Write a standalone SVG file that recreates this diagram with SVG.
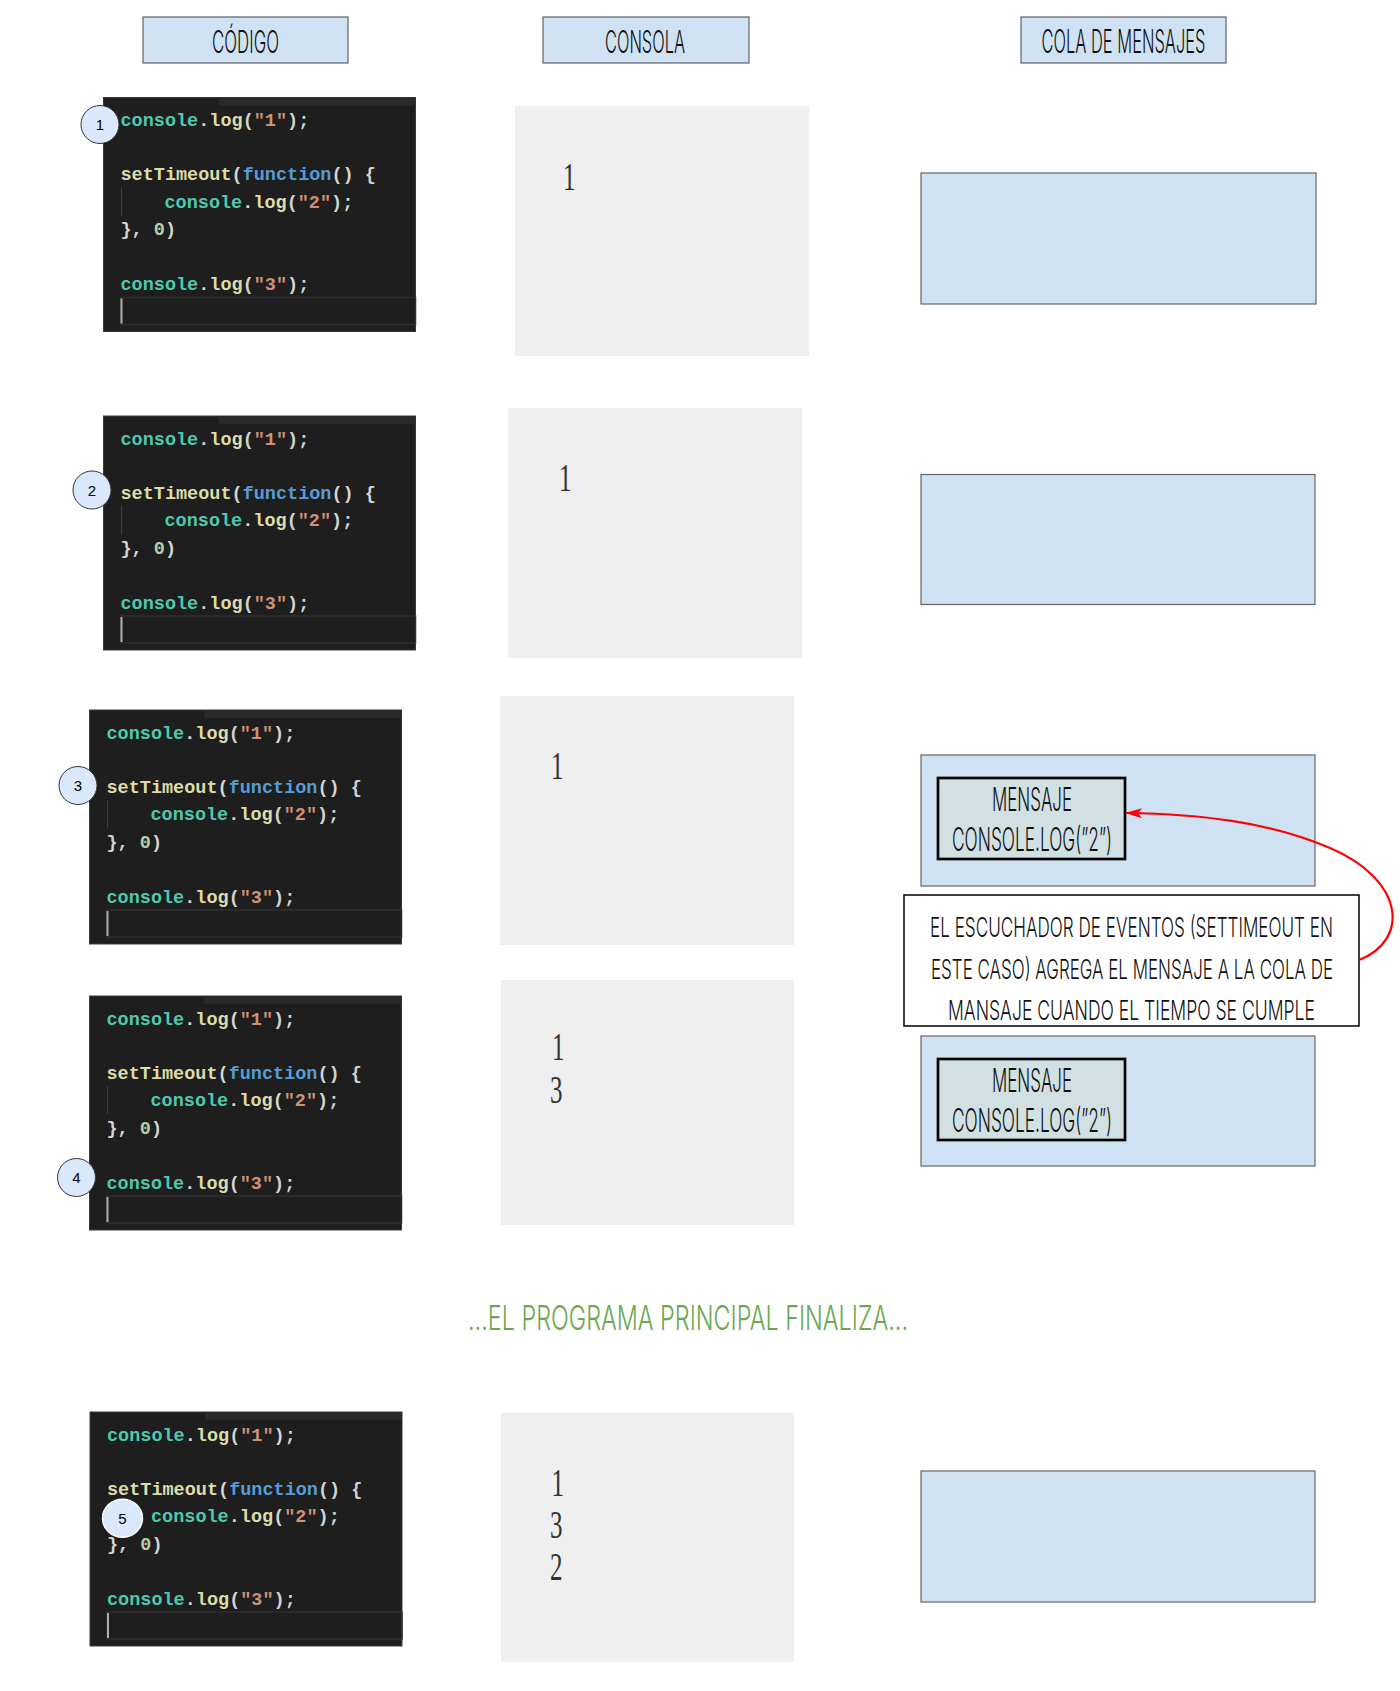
<svg xmlns="http://www.w3.org/2000/svg" width="1400" height="1691" viewBox="0 0 1400 1691">
<style>
.hdr{fill:#cfe2f3;stroke:#5f6368;stroke-width:1.2}
.queue{fill:#cfe2f3;stroke:#666;stroke-width:1.2}
.msg{fill:#d0e0e3;stroke:#000;stroke-width:2.7}
.note{fill:#fff;stroke:#000;stroke-width:1.5}
.cons{fill:#efefef}
.am{font-family:"Inter","Roboto","Liberation Sans",sans-serif;font-weight:300;fill:#111}
.dig{font-family:"Liberation Serif","DejaVu Serif",serif;font-size:25px;fill:#333}
.codebg{fill:#1e1e1e;stroke:#3a3a3a;stroke-width:1}
.tab{fill:#2a2a2a}
.code{font-family:"Liberation Mono","DejaVu Sans Mono",monospace;font-size:18.5px;font-weight:bold;fill:#d4d4d4}
.v{fill:#4ec9b0}.f{fill:#dcdcaa}.s{fill:#ce9178}.k{fill:#569cd6}.n{fill:#b5cea8}
.guide{stroke:#404040;stroke-width:1}
.hl{fill:none;stroke:#2f2f2f;stroke-width:1.5}
.cur{stroke:#aeafad;stroke-width:2}
.step{fill:#dae8fc;stroke:#333;stroke-width:1}
.stepw{fill:#dae8fc;stroke:#fff;stroke-width:1.5}
.stept{font-family:"Liberation Sans",Arial,sans-serif;font-size:15px;fill:#000;text-anchor:middle}
.arrow{fill:none;stroke:#f00;stroke-width:2.2}
</style>
<defs>
<marker id="ah" viewBox="0 -5 17 10" refX="16" refY="0" markerWidth="17" markerHeight="10" markerUnits="userSpaceOnUse" orient="auto">
<path d="M0,-5 L17,0 L0,5 L4,0 Z" fill="#f00"/>
</marker>
</defs>

<!-- Headers -->
<g id="hdr-codigo">
<rect class="hdr" x="143" y="17" width="205" height="46"/>
<text class="am" transform="translate(212,53) scale(1,1.9)" font-size="16.5" textLength="67" lengthAdjust="spacingAndGlyphs">CÓDIGO</text>
</g>
<g id="hdr-consola">
<rect class="hdr" x="543" y="17" width="206" height="46"/>
<text class="am" transform="translate(605,53) scale(1,1.9)" font-size="16.5" textLength="80" lengthAdjust="spacingAndGlyphs">CONSOLA</text>
</g>
<g id="hdr-cola">
<rect class="hdr" x="1021" y="17" width="205" height="46"/>
<text class="am" transform="translate(1041.5,53) scale(1,1.95)" font-size="16.5" textLength="164" lengthAdjust="spacingAndGlyphs">COLA DE MENSAJES</text>
</g>

<!-- Code blocks -->
<g id="code1" transform="translate(103.5,97.5)">
<rect class="codebg" x="0" y="0" width="312" height="234"/>
<rect class="tab" x="115" y="0" width="197" height="8"/>
<text class="code" x="17" y="28.7"><tspan class="v">console</tspan>.<tspan class="f">log</tspan>(<tspan class="s">"1"</tspan>);</text>
<text class="code" x="17" y="82.7"><tspan class="f">setTimeout</tspan>(<tspan class="k">function</tspan>() {</text>
<text class="code" x="61" y="110"><tspan class="v">console</tspan>.<tspan class="f">log</tspan>(<tspan class="s">"2"</tspan>);</text>
<text class="code" x="17" y="137.7">}, <tspan class="n">0</tspan>)</text>
<text class="code" x="17" y="192.7"><tspan class="v">console</tspan>.<tspan class="f">log</tspan>(<tspan class="s">"3"</tspan>);</text>
<line class="guide" x1="18" y1="90" x2="18" y2="118"/>
<rect class="hl" x="17" y="200" width="295" height="27"/>
<line class="cur" x1="18" y1="201" x2="18" y2="226"/>
</g>
<g id="code2" transform="translate(103.5,416)">
<rect class="codebg" x="0" y="0" width="312" height="234"/>
<rect class="tab" x="115" y="0" width="197" height="8"/>
<text class="code" x="17" y="28.7"><tspan class="v">console</tspan>.<tspan class="f">log</tspan>(<tspan class="s">"1"</tspan>);</text>
<text class="code" x="17" y="82.7"><tspan class="f">setTimeout</tspan>(<tspan class="k">function</tspan>() {</text>
<text class="code" x="61" y="110"><tspan class="v">console</tspan>.<tspan class="f">log</tspan>(<tspan class="s">"2"</tspan>);</text>
<text class="code" x="17" y="137.7">}, <tspan class="n">0</tspan>)</text>
<text class="code" x="17" y="192.7"><tspan class="v">console</tspan>.<tspan class="f">log</tspan>(<tspan class="s">"3"</tspan>);</text>
<line class="guide" x1="18" y1="90" x2="18" y2="118"/>
<rect class="hl" x="17" y="200" width="295" height="27"/>
<line class="cur" x1="18" y1="201" x2="18" y2="226"/>
</g>
<g id="code3" transform="translate(89.5,710)">
<rect class="codebg" x="0" y="0" width="312" height="234"/>
<rect class="tab" x="115" y="0" width="197" height="8"/>
<text class="code" x="17" y="28.7"><tspan class="v">console</tspan>.<tspan class="f">log</tspan>(<tspan class="s">"1"</tspan>);</text>
<text class="code" x="17" y="82.7"><tspan class="f">setTimeout</tspan>(<tspan class="k">function</tspan>() {</text>
<text class="code" x="61" y="110"><tspan class="v">console</tspan>.<tspan class="f">log</tspan>(<tspan class="s">"2"</tspan>);</text>
<text class="code" x="17" y="137.7">}, <tspan class="n">0</tspan>)</text>
<text class="code" x="17" y="192.7"><tspan class="v">console</tspan>.<tspan class="f">log</tspan>(<tspan class="s">"3"</tspan>);</text>
<line class="guide" x1="18" y1="90" x2="18" y2="118"/>
<rect class="hl" x="17" y="200" width="295" height="27"/>
<line class="cur" x1="18" y1="201" x2="18" y2="226"/>
</g>
<g id="code4" transform="translate(89.5,996)">
<rect class="codebg" x="0" y="0" width="312" height="234"/>
<rect class="tab" x="115" y="0" width="197" height="8"/>
<text class="code" x="17" y="28.7"><tspan class="v">console</tspan>.<tspan class="f">log</tspan>(<tspan class="s">"1"</tspan>);</text>
<text class="code" x="17" y="82.7"><tspan class="f">setTimeout</tspan>(<tspan class="k">function</tspan>() {</text>
<text class="code" x="61" y="110"><tspan class="v">console</tspan>.<tspan class="f">log</tspan>(<tspan class="s">"2"</tspan>);</text>
<text class="code" x="17" y="137.7">}, <tspan class="n">0</tspan>)</text>
<text class="code" x="17" y="192.7"><tspan class="v">console</tspan>.<tspan class="f">log</tspan>(<tspan class="s">"3"</tspan>);</text>
<line class="guide" x1="18" y1="90" x2="18" y2="118"/>
<rect class="hl" x="17" y="200" width="295" height="27"/>
<line class="cur" x1="18" y1="201" x2="18" y2="226"/>
</g>
<g id="code5" transform="translate(90,1412)">
<rect class="codebg" x="0" y="0" width="312" height="234"/>
<rect class="tab" x="115" y="0" width="197" height="8"/>
<text class="code" x="17" y="28.7"><tspan class="v">console</tspan>.<tspan class="f">log</tspan>(<tspan class="s">"1"</tspan>);</text>
<text class="code" x="17" y="82.7"><tspan class="f">setTimeout</tspan>(<tspan class="k">function</tspan>() {</text>
<text class="code" x="61" y="110"><tspan class="v">console</tspan>.<tspan class="f">log</tspan>(<tspan class="s">"2"</tspan>);</text>
<text class="code" x="17" y="137.7">}, <tspan class="n">0</tspan>)</text>
<text class="code" x="17" y="192.7"><tspan class="v">console</tspan>.<tspan class="f">log</tspan>(<tspan class="s">"3"</tspan>);</text>
<line class="guide" x1="18" y1="90" x2="18" y2="118"/>
<rect class="hl" x="17" y="200" width="295" height="27"/>
<line class="cur" x1="18" y1="201" x2="18" y2="226"/>
</g>

<!-- Step markers -->
<g id="step1"><circle class="step" cx="100" cy="124.5" r="19"/><text class="stept" x="100" y="130">1</text></g>
<g id="step2"><circle class="step" cx="92" cy="490" r="19"/><text class="stept" x="92" y="495.5">2</text></g>
<g id="step3"><circle class="step" cx="78" cy="785.5" r="19"/><text class="stept" x="78" y="791">3</text></g>
<g id="step4"><circle class="step" cx="76.5" cy="1177.5" r="19"/><text class="stept" x="76.5" y="1183">4</text></g>
<g id="step5"><ellipse class="stepw" cx="122.5" cy="1518.3" rx="20" ry="19"/><text class="stept" x="122.5" y="1523.8">5</text></g>

<!-- Consoles -->
<g id="console1">
<rect class="cons" x="515" y="106" width="294" height="250"/>
<text class="dig" transform="translate(563,190) scale(1,1.6)">1</text>
</g>
<g id="console2">
<rect class="cons" x="508" y="408" width="294" height="250"/>
<text class="dig" transform="translate(559,491) scale(1,1.6)">1</text>
</g>
<g id="console3">
<rect class="cons" x="500" y="696" width="294" height="249"/>
<text class="dig" transform="translate(551,779) scale(1,1.6)">1</text>
</g>
<g id="console4">
<rect class="cons" x="501" y="980" width="293" height="245"/>
<text class="dig" transform="translate(552,1060) scale(1,1.6)">1</text>
<text class="dig" transform="translate(550,1103) scale(1,1.6)">3</text>
</g>
<g id="console5">
<rect class="cons" x="501" y="1413" width="293" height="249"/>
<text class="dig" transform="translate(551.5,1496) scale(1,1.6)">1</text>
<text class="dig" transform="translate(550,1538) scale(1,1.6)">3</text>
<text class="dig" transform="translate(550,1580) scale(1,1.6)">2</text>
</g>

<!-- Message queues -->
<g id="queue1"><rect class="queue" x="921" y="173" width="395" height="131"/></g>
<g id="queue2"><rect class="queue" x="921" y="474.5" width="394" height="130"/></g>
<g id="queue3">
<rect class="queue" x="921" y="755" width="394" height="131"/>
<rect class="msg" x="938" y="778" width="187" height="81"/>
<text class="am" transform="translate(992,811) scale(1,1.95)" font-size="16.5" textLength="80" lengthAdjust="spacingAndGlyphs">MENSAJE</text>
<text class="am" transform="translate(952,851) scale(1,1.95)" font-size="16.5" textLength="160" lengthAdjust="spacingAndGlyphs">CONSOLE.LOG(”2”)</text>
</g>
<g id="queue4">
<rect class="queue" x="921" y="1036" width="394" height="130"/>
<rect class="msg" x="938" y="1059" width="187" height="81"/>
<text class="am" transform="translate(992,1092) scale(1,1.95)" font-size="16.5" textLength="80" lengthAdjust="spacingAndGlyphs">MENSAJE</text>
<text class="am" transform="translate(952,1132) scale(1,1.95)" font-size="16.5" textLength="160" lengthAdjust="spacingAndGlyphs">CONSOLE.LOG(”2”)</text>
</g>
<g id="queue5"><rect class="queue" x="921" y="1471" width="394" height="131"/></g>

<!-- Annotation -->
<g id="note">
<rect class="note" x="904" y="895" width="455" height="131"/>
<text class="am" transform="translate(930,937) scale(1,1.6)" font-size="17.2" textLength="403" lengthAdjust="spacingAndGlyphs">EL ESCUCHADOR DE EVENTOS (SETTIMEOUT EN</text>
<text class="am" transform="translate(931,979) scale(1,1.6)" font-size="17.2" textLength="402" lengthAdjust="spacingAndGlyphs">ESTE CASO) AGREGA EL MENSAJE A LA COLA DE</text>
<text class="am" transform="translate(948,1020) scale(1,1.6)" font-size="17.2" textLength="367" lengthAdjust="spacingAndGlyphs">MANSAJE CUANDO EL TIEMPO SE CUMPLE</text>
</g>

<!-- Transition text -->
<g id="fin">
<text class="am" transform="translate(468,1330) scale(1,1.5)" font-size="23" textLength="440" lengthAdjust="spacingAndGlyphs" style="fill:#6aa84f">...EL PROGRAMA PRINCIPAL FINALIZA...</text>
</g>

<!-- Connectors -->
<g id="connectors">
<path class="arrow" d="M1359,960 C1410,940 1405,880 1330,848 C1270,822 1200,814 1126,813" marker-end="url(#ah)"/>
</g>
</svg>
